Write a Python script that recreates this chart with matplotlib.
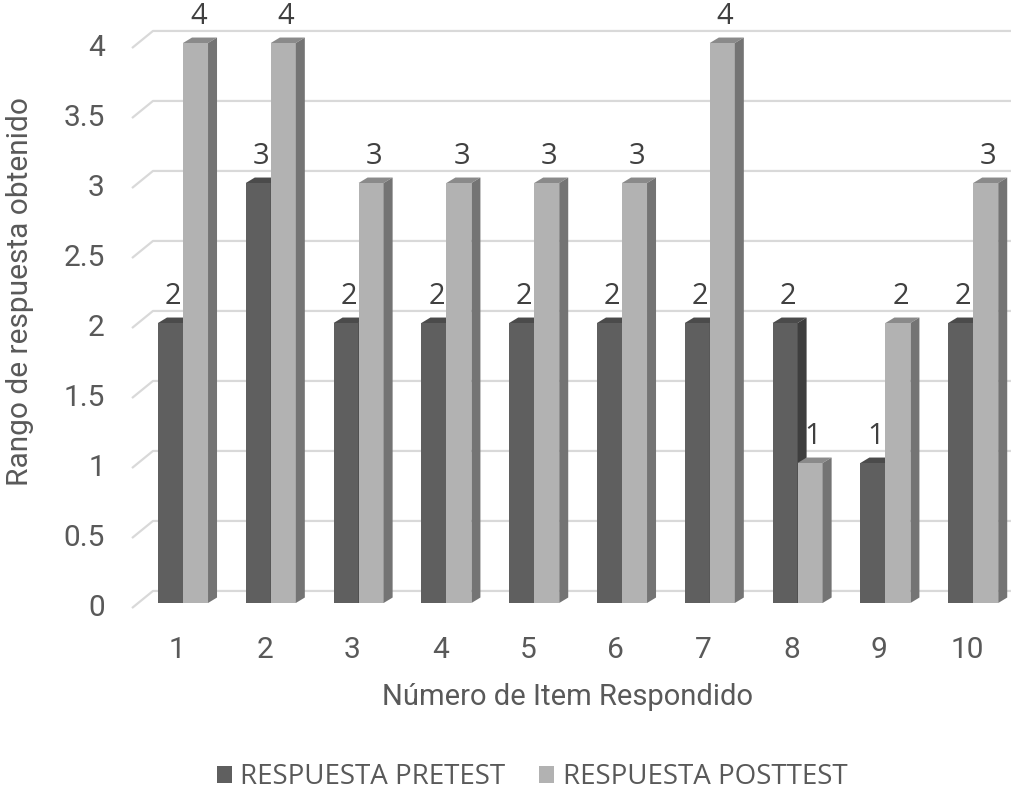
import numpy as np
import matplotlib
matplotlib.use('Agg')
import matplotlib.pyplot as plt
from matplotlib.patches import Polygon, Patch

# Item numbers and response ranges
items = ['1', '2', '3', '4', '5', '6', '7', '8', '9', '10']
pretest = [2, 3, 2, 2, 2, 2, 2, 2, 1, 2]
posttest = [4, 4, 3, 3, 3, 3, 4, 1, 2, 3]
grid_levels = [0, 0.5, 1, 1.5, 2, 2.5, 3, 3.5, 4]
grid_labels = ['0', '0.5', '1', '1.5', '2', '2.5', '3', '3.5', '4']
series_names = ['RESPUESTA PRETEST', 'RESPUESTA POSTTEST']

# shades for front / top / side faces
PRE = ('#5f5f5f', '#4b4b4b', '#3e3e3e')
POST = ('#b2b2b2', '#8a8a8a', '#747474')
GRID = '#d9d9d9'
TICK = '#595959'
LABEL = '#404040'

tick_font = ['Roboto', 'DejaVu Sans']
label_font = ['Open Sans', 'DejaVu Sans']

W = 0.285           # bar width in category units
DX, DY = 0.1025, 0.039   # bar depth offset
FX, FY = -0.081, -0.036  # front edge of the floor/walls
BX, BY = 0.158, 0.086    # back wall offset

fig = plt.figure(figsize=(10.24, 7.91), dpi=100, facecolor='white')
ax = fig.add_axes([0, 0, 1, 1])
ax.set_xlim(1 - 183 / 87.8, 1 + (1024 - 183) / 87.8)
ax.set_ylim((603 - 791) / 140, 603 / 140)
ax.axis('off')

# back wall gridlines with the short diagonal at the left
x_left = 0.5
x_right = 10.43
for g, lab in zip(grid_levels, grid_labels):
    ax.plot([x_left + FX, x_left + BX, x_right], [g + FY, g + BY, g + BY],
            color=GRID, lw=1.6, solid_capstyle='butt', zorder=1)
    ax.text(x_left - 0.39, g + FY, lab, ha='right', va='center',
            fontsize=21.5, color=TICK, family=tick_font)


def bar3d(x0, v, colors):
    front, top, side = colors
    ax.bar(x0, v, width=W, align='edge', color=front, linewidth=0, zorder=3)
    ax.add_patch(Polygon([(x0, v), (x0 + W, v), (x0 + W + DX, v + DY), (x0 + DX, v + DY)],
                         closed=True, facecolor=top, edgecolor='none', zorder=3))
    ax.add_patch(Polygon([(x0 + W, 0), (x0 + W + DX, DY), (x0 + W + DX, v + DY), (x0 + W, v)],
                         closed=True, facecolor=side, edgecolor='none', zorder=3))
    ax.text(x0 + W / 2 + DX / 2 - 0.02, v + 0.19, f'{v:g}', ha='center', va='center',
            fontsize=21, color=LABEL, family=label_font, zorder=4)


for i, (pre, post) in enumerate(zip(pretest, posttest)):
    c = i + 1
    bar3d(c - W, pre, PRE)
    bar3d(c, post, POST)
    ax.text(c - 0.07, FY - 0.3, items[i], ha='center', va='center',
            fontsize=21.5, color=TICK, family=tick_font)

fig.text(567 / 1024, 1 - 697 / 791, 'Número de Item Respondido', ha='center', va='center',
         fontsize=21, color=TICK, family=tick_font)
fig.text(20 / 1024, 1 - 292 / 791, 'Rango de respuesta obtenido', ha='center', va='center',
         rotation=90, fontsize=21.5, color=TICK, family=tick_font)

handles = [Patch(facecolor=PRE[0]), Patch(facecolor=POST[0])]
fig.legend(handles, series_names, loc='center', bbox_to_anchor=(532 / 1024, 1 - 777 / 791),
           ncol=2, frameon=False, handlelength=0.55, handleheight=0.55,
           handletextpad=0.3, columnspacing=1.2,
           prop={'family': label_font, 'size': 20}, labelcolor=TICK)

plt.savefig('out.png', dpi=100, facecolor='white')
plt.close()
